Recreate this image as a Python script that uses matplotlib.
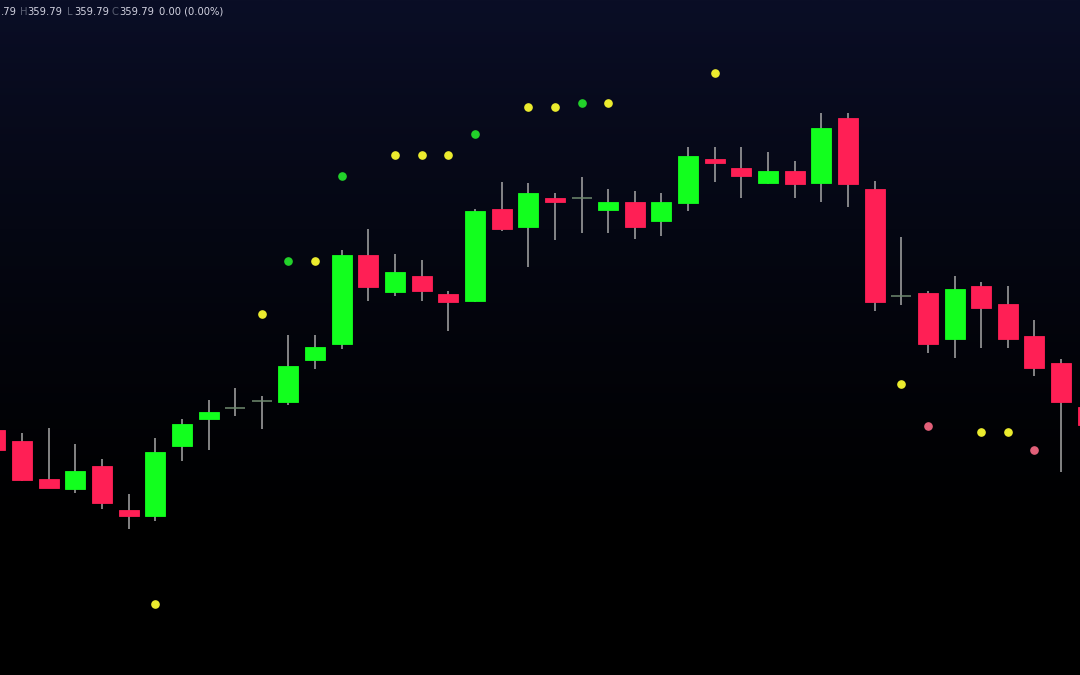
import numpy as np
import matplotlib
matplotlib.use("Agg")
import matplotlib.pyplot as plt

# ---- data (price units) ----
opens  = [357.0, 355.9, 352.1, 351.1, 353.4, 349.0, 348.4, 355.4, 358.1, 359.2,
          359.9, 359.8, 364.0, 365.6, 374.5, 370.8, 372.4, 370.6, 369.9, 379.1,
          377.3, 380.2, 380.2, 379.0, 379.8, 377.9, 379.7, 384.1, 383.2, 381.7,
          382.9, 381.7, 388.2, 381.1, 370.4, 370.7, 366.1, 371.4, 369.6, 366.4,
          363.7, 359.3]
highs  = [357.5, 356.7, 357.2, 355.6, 354.1, 350.6, 356.2, 358.1, 360.0, 361.2,
          360.4, 366.5, 366.5, 375.0, 377.1, 374.6, 374.0, 370.9, 379.1, 381.8,
          381.7, 380.7, 382.3, 381.1, 380.9, 380.7, 385.3, 385.3, 385.3, 384.8,
          383.9, 388.7, 388.7, 381.9, 376.3, 370.9, 372.4, 371.8, 371.4, 368.0,
          364.1, 359.7]
lows   = [354.5, 351.9, 351.2, 350.7, 349.1, 347.1, 347.9, 353.9, 355.0, 358.4,
          357.1, 359.5, 363.1, 365.1, 369.9, 370.4, 369.9, 366.9, 369.8, 376.9,
          373.3, 376.0, 376.7, 376.7, 376.1, 376.4, 378.9, 381.8, 380.2, 381.6,
          380.2, 379.8, 379.3, 368.9, 369.5, 364.7, 364.2, 365.2, 365.2, 362.4,
          352.8, 357.0]
closes = [355.0, 352.0, 351.2, 352.9, 349.7, 348.4, 354.8, 357.6, 358.8, 359.2,
          359.9, 363.4, 365.3, 374.5, 371.3, 372.8, 370.9, 369.8, 378.9, 377.1,
          380.7, 379.8, 380.2, 379.8, 377.3, 379.8, 384.4, 383.7, 382.4, 382.9,
          381.6, 387.2, 381.6, 369.8, 370.4, 365.6, 371.1, 369.2, 366.1, 363.2,
          359.8, 357.5]

dot_idx    = [6, 10, 11, 12, 13, 15, 16, 17, 18, 20, 21, 22, 23, 27, 34, 35, 37, 38, 39]
dot_price  = [339.6, 368.6, 373.9, 373.9, 382.4, 384.5, 384.5, 384.5, 386.6, 389.3,
              389.3, 389.7, 389.7, 392.7, 361.6, 357.4, 356.8, 356.8, 355.0]
dot_kind   = ["y", "y", "g", "y", "g", "y", "y", "y", "g", "y",
              "y", "g", "y", "y", "y", "r", "y", "y", "r"]

legend_head = ".79"
legend_parts = [("H", "359.79"), ("L", "359.79"), ("C", "359.79")]
change_text = "0.00 (0.00%)"

# ---- style ----
UP = "#12ff1e"
DOWN = "#ff1f55"
WICK = "#a7a7a7"
DOJI = "#6f8a6f"
DOT_COLORS = {"y": "#ecec2e", "g": "#22d22a", "r": "#e26079"}

fig = plt.figure(figsize=(10.8, 6.75), dpi=100)
ax = fig.add_axes([0, 0, 1, 1])
ax.set_axis_off()

# gradient background
h = 256
t = np.linspace(0, 1, h)[:, None]
w = np.clip(1 - t / 0.82, 0, 1) ** 1.3
top = np.array([10, 14, 38]) / 255.0
grad = np.zeros((h, 2, 3))
for k in range(3):
    grad[:, :, k] = top[k] * w
ax.imshow(grad, extent=[0, 1, 0, 1], transform=ax.transAxes, aspect="auto",
          zorder=0, origin="upper")

x = np.arange(len(opens))
body_w = 0.75
for i in x:
    o, hi, lo, c = opens[i], highs[i], lows[i], closes[i]
    ax.vlines(i, lo, hi, color=WICK, lw=1.1, zorder=2)
    if abs(c - o) < 1e-9:
        ax.hlines(o, i - body_w / 2, i + body_w / 2, color=DOJI, lw=1.1, zorder=3)
        continue
    col = UP if c > o else DOWN
    ax.bar(i, c - o, bottom=o, width=body_w, color=col, edgecolor=col,
           linewidth=0.6, zorder=3)

for xi, p, k in zip(dot_idx, dot_price, dot_kind):
    ax.plot(xi, p, "o", ms=5.2, color=DOT_COLORS[k], mec=DOT_COLORS[k], zorder=4)

ax.set_xlim(0.173, 40.71)
ax.set_ylim(332.5, 400.0)

# top-left OHLC legend
fs = 7.2
ypix = 12
dim = "#5a5f72"
bright = "#d2d2e0"
fig.text(1 / 1080, 1 - ypix / 675, legend_head, color=bright, fontsize=fs,
         va="center", ha="left")
starts = [20, 67, 112]
for (lab, val), sx in zip(legend_parts, starts):
    fig.text(sx / 1080, 1 - ypix / 675, lab, color=dim, fontsize=fs, va="center", ha="left")
    fig.text((sx + 7.5) / 1080, 1 - ypix / 675, val, color=bright, fontsize=fs,
             va="center", ha="left")
fig.text(159 / 1080, 1 - ypix / 675, change_text, color=bright, fontsize=fs,
         va="center", ha="left")

fig.savefig("out.png", dpi=100, facecolor="black")
